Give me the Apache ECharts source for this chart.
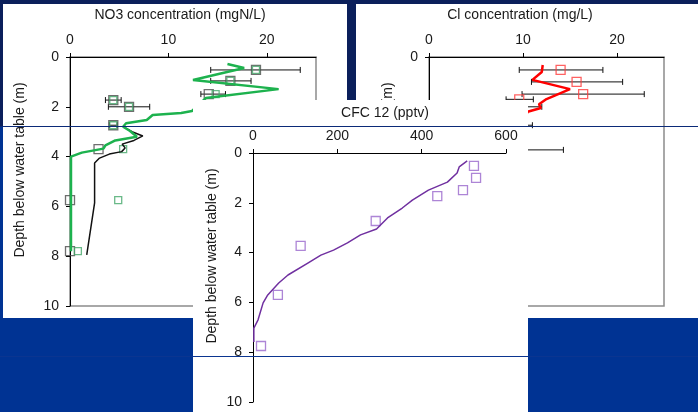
<!DOCTYPE html>
<html>
<head>
<meta charset="utf-8">
<script src="https://cdn.jsdelivr.net/npm/echarts@6/dist/echarts.min.js"></script>
<style>
  html, body { margin: 0; padding: 0; background: #003393; }
  #chart { width: 698px; height: 412px; }
</style>
</head>
<body>
<div id="chart"></div>
<script>
const FONT = 'Liberation Sans, Arial, sans-serif'
const INK = '#1a1a1a'

// NO3 panel: [concentration mgN/L, depth m]
const no3ModelGreen = [[16.0, 0.28], [17.7, 0.44], [12.5, 0.92], [21.2, 1.29], [13.8, 1.65], [12.4, 2.17], [11.3, 2.25], [8.4, 2.33], [7.8, 2.53], [5.7, 2.66], [5.4, 2.8], [6.1, 2.97], [6.8, 3.2], [4.6, 3.35], [3.6, 3.55], [3.4, 3.68], [1.2, 3.84], [0.1, 4.0], [0.1, 6.0], [0.1, 7.8]]
const no3ModelBlack = [[5.4, 2.8], [6.3, 3.0], [7.4, 3.17], [7.6, 3.25], [6.5, 3.35], [5.3, 3.5], [5.6, 3.65], [5.25, 3.8], [4.0, 3.9], [3.0, 4.06], [2.5, 4.26], [2.5, 5.86], [1.7, 7.95]]
const no3ObsBlack = [[18.9, 0.52], [16.3, 0.96], [14.1, 1.49], [4.4, 1.73], [6.0, 2.0], [4.4, 2.74], [2.9, 3.7], [0, 5.75], [0, 7.8]]
const no3ObsGreen = [[18.9, 0.52], [16.3, 0.96], [14.8, 1.49], [4.4, 1.73], [6.0, 2.0], [4.4, 2.74], [5.4, 3.7], [4.9, 5.75], [0.8, 7.8]]
const no3ErrDepth = [0.52, 0.96, 1.49, 1.73, 2.0, 2.74]
const no3ErrLo = [14.3, 14.3, 13.3, 3.6, 3.9, 4.0]
const no3ErrHi = [23.4, 18.4, 15.8, 5.2, 8.1, 4.8]

// Cl panel: [concentration mg/L, depth m]
const clModel = [[12.1, 0.32], [12.0, 0.6], [11.0, 0.92], [15.0, 1.29], [12.5, 1.69], [11.7, 1.9], [11.9, 2.05], [10.5, 2.2], [10.0, 2.6], [9.5, 3.2], [9.0, 4.0], [8.8, 6.0], [8.6, 7.8]]
const clObs = [[14.0, 0.52], [15.7, 1.0], [16.4, 1.49], [9.6, 1.7], [9.8, 2.0], [9.6, 2.74], [9.4, 3.73], [8.9, 5.75], [8.8, 7.8]]
const clErrDepth = [0.52, 1.0, 1.49, 1.7, 2.0, 2.74, 3.73]
const clErrLo = [9.6, 10.9, 9.9, 8.2, 7.6, 8.2, 4.5]
const clErrHi = [18.5, 20.6, 22.9, 11.1, 12.0, 11.0, 14.3]

// CFC 12 panel: [pptv, depth m]
const cfcModel = [[508, 0.32], [489, 0.56], [484, 0.8], [461, 1.17], [416, 1.49], [378, 1.89], [354, 2.21], [319, 2.61], [293, 3.05], [255, 3.29], [224, 3.61], [191, 3.9], [161, 4.1], [130, 4.42], [83, 4.9], [61, 5.22], [35, 5.7], [24, 6.02], [12, 6.7], [2, 7.03], [2, 7.59]]
const cfcObs = [[524, 0.52], [529, 1.0], [498, 1.49], [437, 1.73], [291, 2.73], [113, 3.73], [59, 5.7], [19, 7.75]]

const zip = (lo, hi, d) => d.map((v, i) => [lo[i], hi[i], v])

function errorBars(params, api) {
  const a = api.coord([api.value(0), api.value(2)])
  const b = api.coord([api.value(1), api.value(2)])
  const st = { stroke: '#111', lineWidth: 1 }
  return {
    type: 'group',
    children: [
      { type: 'line', shape: { x1: a[0], y1: a[1], x2: b[0], y2: b[1] }, style: st },
      { type: 'line', shape: { x1: a[0], y1: a[1] - 3, x2: a[0], y2: a[1] + 3 }, style: st },
      { type: 'line', shape: { x1: b[0], y1: b[1] - 3, x2: b[0], y2: b[1] + 3 }, style: st }
    ]
  }
}

function topAxis(gridIndex, max, interval, zlevel) {
  return {
    type: 'value', gridIndex, position: 'top', min: 0, max, interval, zlevel,
    axisLine: { show: true, onZero: false, lineStyle: { color: '#000', width: 1 } },
    axisTick: { show: true, length: 4, lineStyle: { color: '#000' } },
    axisLabel: { color: INK, fontSize: 14, fontFamily: FONT, margin: 10, showMaxLabel: max % interval === 0 },
    splitLine: { show: false }
  }
}

function depthAxis(gridIndex, zlevel) {
  return {
    type: 'value', gridIndex, inverse: true, min: 0, max: 10, interval: 2, zlevel,
    axisLine: { show: true, onZero: false, lineStyle: { color: '#000', width: 1 } },
    axisTick: { show: true, length: 4, lineStyle: { color: '#000' } },
    axisLabel: { color: INK, fontSize: 14, fontFamily: FONT, margin: 11 },
    splitLine: { show: false }
  }
}

function label(text, x, y, zlevel, vertical) {
  return {
    type: 'text', zlevel, x, y, rotation: vertical ? Math.PI / 2 : 0,
    style: {
      text, fill: INK, font: '14px ' + FONT,
      align: 'center', verticalAlign: 'middle', textAlign: 'center', textVerticalAlign: 'middle'
    }
  }
}

const squares = (color, size) => ({
  type: 'scatter', symbol: 'rect', symbolSize: size,
  itemStyle: { color: 'rgba(0,0,0,0)', borderColor: color, borderWidth: 1.3 }
})

const chart = echarts.init(document.getElementById('chart'), null, { renderer: 'canvas' })
chart.setOption({
  animation: false,
  grid: [
    { left: 70, top: 57, width: 246, height: 249, show: true, borderColor: '#8c8c8c', borderWidth: 1.5, zlevel: 1 },
    { left: 429, top: 57, width: 235, height: 249, show: true, borderColor: '#8c8c8c', borderWidth: 1.5, zlevel: 1 },
    { left: 253, top: 153, width: 253, height: 249, show: false, zlevel: 3 }
  ],
  xAxis: [topAxis(0, 25, 10, 1), topAxis(1, 25, 10, 1), topAxis(2, 600, 200, 3)],
  yAxis: [depthAxis(0, 1), depthAxis(1, 1), depthAxis(2, 3)],
  graphic: [
    { type: 'rect', zlevel: 0, shape: { x: 0, y: 0, width: 698, height: 412 }, style: { fill: '#003393' } },
    { type: 'rect', zlevel: 0, shape: { x: 0, y: 0, width: 698, height: 126 }, style: { fill: '#0b1f5b' } },
    { type: 'rect', zlevel: 0, shape: { x: 3, y: 4, width: 344, height: 314 }, style: { fill: '#fff' } },
    { type: 'rect', zlevel: 0, shape: { x: 356, y: 4, width: 342, height: 314 }, style: { fill: '#fff' } },
    label('NO3 concentration (mgN/L)', 180, 15, 1),
    label('Cl concentration (mg/L)', 520, 15, 1),
    label('Depth below water table (m)', 20, 170, 1, true),
    label('Depth below water table (m)', 388, 170, 1, true),
    { type: 'rect', zlevel: 2, shape: { x: 193, y: 100, width: 335, height: 312 }, style: { fill: '#fff' } },
    label('CFC 12 (pptv)', 385, 113, 3),
    label('Depth below water table (m)', 212, 256, 3, true),
    { type: 'line', zlevel: 4, shape: { x1: 0, y1: 126.5, x2: 698, y2: 126.5 }, style: { stroke: '#0b2a78', lineWidth: 1 } },
    { type: 'line', zlevel: 4, shape: { x1: 0, y1: 356.5, x2: 698, y2: 356.5 }, style: { stroke: '#0b3590', lineWidth: 1 } }
  ],
  series: [
    { type: 'line', xAxisIndex: 0, yAxisIndex: 0, zlevel: 1, data: no3ModelBlack, showSymbol: false, lineStyle: { color: '#111', width: 1.5 } },
    { type: 'line', xAxisIndex: 0, yAxisIndex: 0, zlevel: 1, data: no3ModelGreen, showSymbol: false, lineStyle: { color: '#1db24e', width: 2.5 } },
    { type: 'custom', xAxisIndex: 0, yAxisIndex: 0, zlevel: 1, data: zip(no3ErrLo, no3ErrHi, no3ErrDepth), encode: { x: [0, 1], y: 2 }, renderItem: errorBars },
    { ...squares('#4a4a4a', 9), xAxisIndex: 0, yAxisIndex: 0, zlevel: 1, data: no3ObsBlack },
    { ...squares('#45a86a', 7), xAxisIndex: 0, yAxisIndex: 0, zlevel: 1, data: no3ObsGreen },

    { type: 'line', xAxisIndex: 1, yAxisIndex: 1, zlevel: 1, data: clModel, showSymbol: false, lineStyle: { color: '#ff0000', width: 2.5 } },
    { type: 'custom', xAxisIndex: 1, yAxisIndex: 1, zlevel: 1, data: zip(clErrLo, clErrHi, clErrDepth), encode: { x: [0, 1], y: 2 }, renderItem: errorBars },
    { ...squares('#ff3b3b', 9), xAxisIndex: 1, yAxisIndex: 1, zlevel: 1, data: clObs },

    { type: 'line', xAxisIndex: 2, yAxisIndex: 2, zlevel: 3, data: cfcModel, showSymbol: false, lineStyle: { color: '#7030a0', width: 1.5 } },
    { ...squares('#9966cc', 9), xAxisIndex: 2, yAxisIndex: 2, zlevel: 3, data: cfcObs }
  ]
})
</script>
</body>
</html>
